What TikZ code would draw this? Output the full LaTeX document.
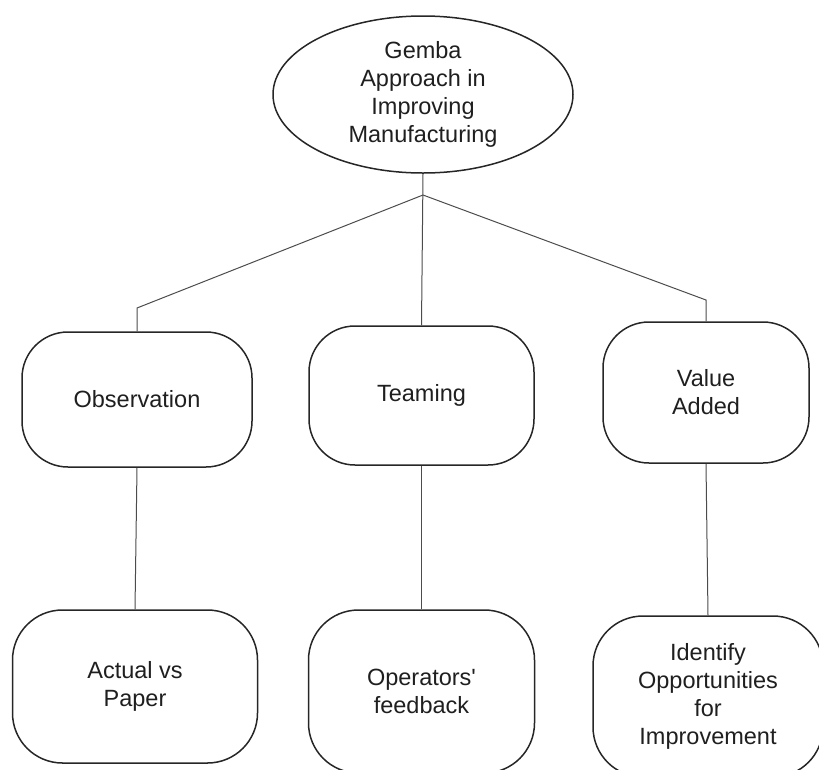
\documentclass[tikz,border=0pt]{standalone}
\usepackage{fontspec}
\setmainfont{Liberation Sans}[Ligatures=TeXOff]
\usetikzlibrary{shapes.geometric}
\begin{document}
\begin{tikzpicture}[x=1pt,y=-1pt,
  lbl/.style={font=\fontsize{23.5}{28}\selectfont, text=black!88, align=center, inner sep=0pt},
  rootnode/.style={lbl, ellipse, draw=black!85, line width=1.5pt, minimum width=300pt, minimum height=157pt},
  box/.style={lbl, rectangle, draw=black!85, line width=1.5pt, rounded corners=46pt},
  link/.style={draw=black!70, line width=1pt}]
\useasboundingbox (0,0) rectangle (819,769);
\clip (0,0) rectangle (819,769);
\node[rootnode] (root) at (423,94.5) {Gemba\\Approach in\\Improving\\Manufacturing};
\node[box, minimum width=230pt, minimum height=135pt] (obs) at (137,399.5) {Observation};
\node[box, minimum width=225pt, minimum height=139pt] (team) at (421.5,395.5) {Teaming};
\node[box, minimum width=206pt, minimum height=141pt] (val) at (706,392.5) {Value\\Added};
\node[box, minimum width=245pt, minimum height=153pt, rounded corners=50pt] (act) at (135,686.5) {Actual vs\\Paper};
\node[box, minimum width=226pt, minimum height=163pt, rounded corners=50pt] (ops) at (421.5,691.5) {Operators'\\feedback};
\node[box, minimum width=230pt, minimum height=161pt, rounded corners=50pt] (iden) at (708,696.5) {Identify\\Opportunities\\for\\Improvement};
\coordinate (j) at (423,195);
\coordinate (lb) at (137,308);
\coordinate (rb) at (706,300);
\draw[link] (root.south) -- (team.north);
\draw[link] (j) -- (lb) -- (obs.north);
\draw[link] (j) -- (rb) -- (val.north);
\draw[link] (obs.south) -- (act.north);
\draw[link] (team.south) -- (ops.north);
\draw[link] (val.south) -- (iden.north);
\end{tikzpicture}
\end{document}
